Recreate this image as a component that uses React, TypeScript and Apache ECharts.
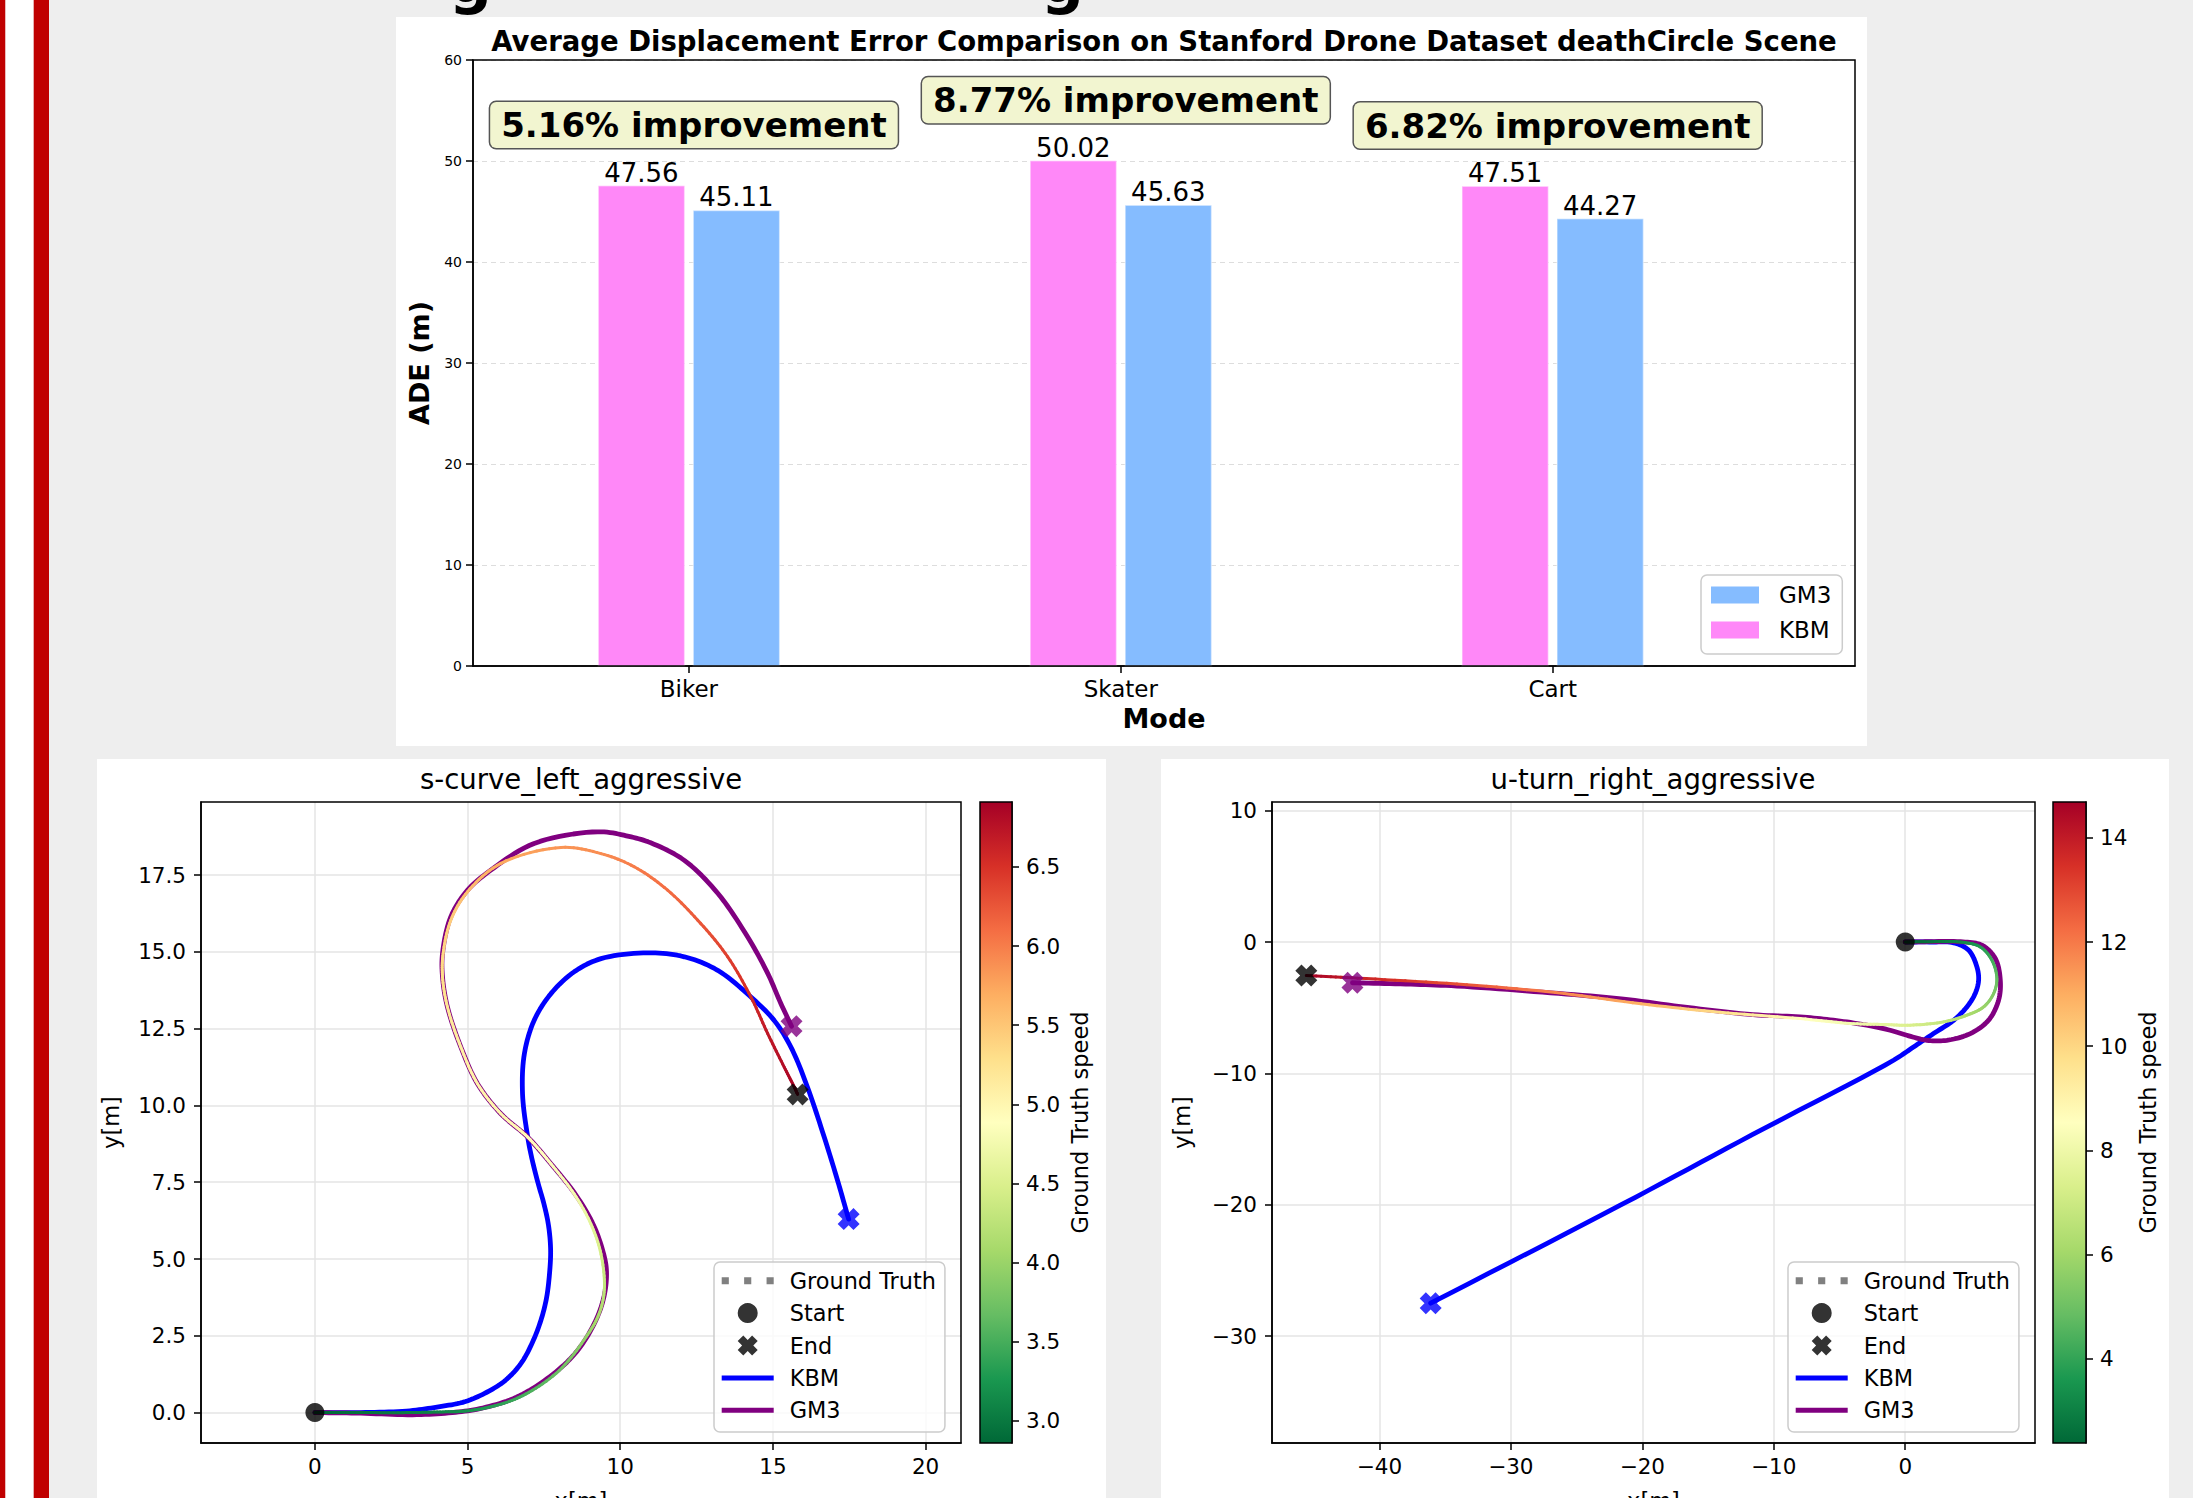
import React, { useEffect, useRef } from 'react';
import * as echarts from 'echarts';

const FONT = 'DejaVu Sans';

// ---------------- Bar chart data ----------------
const categories = ['Biker', 'Skater', 'Cart'];
const kbmADE = [47.56, 50.02, 47.51];
const gm3ADE = [45.11, 45.63, 44.27];
const improvementLabels = ['5.16% improvement', '8.77% improvement', '6.82% improvement'];
const barYTicks = [0, 10, 20, 30, 40, 50, 60];

// ---------------- s-curve_left_aggressive ----------------
const sCurveKBM = [
  [0, 0], [1.5, 0], [3.0, 0.05], [4.0, 0.18], [4.93, 0.36], [5.7, 0.7], [6.25, 1.06], [6.75, 1.6],
  [7.13, 2.3], [7.4, 3.0], [7.58, 3.7], [7.68, 4.48], [7.72, 5.3], [7.65, 6.1], [7.5, 6.8], [7.3, 7.5],
  [7.1, 8.3], [6.97, 8.97], [6.8, 10.38], [6.86, 11.68], [7.18, 12.77], [7.73, 13.64], [8.49, 14.35],
  [9.37, 14.78], [10.9, 14.97], [12.1, 14.84], [13.19, 14.4], [14.28, 13.53], [15.04, 12.77],
  [15.59, 11.9], [16.13, 10.6], [16.68, 8.97], [17.12, 7.55], [17.48, 6.3],
];
const sCurveGM3 = [
  [0, 0], [1.5, -0.02], [3.2, -0.07], [4.5, 0.0], [5.5, 0.15], [6.6, 0.5], [7.6, 1.1], [8.5, 1.9],
  [9.1, 2.8], [9.45, 3.7], [9.55, 4.6], [9.42, 5.3], [9.08, 6.2], [8.5, 7.15], [7.73, 8.1], [6.97, 8.97],
  [6.09, 9.73], [5.33, 10.7], [4.78, 11.9], [4.34, 13.21], [4.18, 14.18], [4.18, 14.95], [4.45, 16.14],
  [5.0, 17.01], [5.76, 17.66], [7.18, 18.53], [9.26, 18.91], [10.2, 18.78], [11.0, 18.55], [12.1, 17.98],
  [13.2, 16.9], [14.17, 15.49], [14.83, 14.3], [15.26, 13.32], [15.61, 12.58],
];
// x, y, ground-truth speed
const sCurveGT = [
  [0, 0, 2.86], [1.5, 0, 2.95], [3.0, 0, 3.05], [4.0, 0.02, 3.1], [4.93, 0.05, 3.2], [6.0, 0.25, 3.35],
  [6.9, 0.6, 3.5], [8.0, 1.37, 3.7], [8.88, 2.46, 3.95], [9.3, 3.2, 4.1], [9.48, 4.0, 4.25], [9.37, 5.16, 4.45],
  [9.04, 6.14, 4.6], [8.49, 7.12, 4.75], [7.73, 8.1, 4.85], [6.97, 8.97, 4.95], [6.09, 9.73, 5.0],
  [5.33, 10.7, 5.05], [4.78, 11.9, 5.1], [4.34, 13.21, 5.2], [4.18, 14.18, 5.3], [4.2, 14.95, 5.35],
  [4.45, 16.03, 5.45], [5.0, 16.96, 5.55], [6.09, 17.88, 5.7], [8.06, 18.4, 5.85], [9.37, 18.2, 5.9],
  [10.46, 17.77, 6.0], [11.55, 17.01, 6.1], [12.64, 15.92, 6.25], [13.52, 14.84, 6.4], [14.28, 13.53, 6.55],
  [14.83, 12.34, 6.7], [15.37, 11.25, 6.8], [15.7, 10.6, 6.88], [15.81, 10.36, 6.91],
];
const sCurveXRange = [-3.73, 21.16];
const sCurveYRange = [-0.99, 19.88];
const sCurveXTicks = [0, 5, 10, 15, 20];
const sCurveYTicks = [0, 2.5, 5, 7.5, 10, 12.5, 15, 17.5];
const sCurveCbTicks = [3.0, 3.5, 4.0, 4.5, 5.0, 5.5, 6.0, 6.5];

// ---------------- u-turn_right_aggressive ----------------
const uTurnKBM = [
  [0, 0], [2.0, 0.0], [3.68, -0.06], [4.82, -0.62], [5.45, -1.89], [5.58, -2.91], [5.32, -3.92],
  [4.69, -4.94], [3.68, -5.96], [2.15, -6.97], [0.63, -7.99], [-0.89, -9.0], [-11.6, -14.65],
  [-21.6, -20.0], [-36.1, -27.5],
];
const uTurnGM3 = [
  [0, 0], [1.5, 0.02], [4.2, 0.02], [5.83, -0.24], [6.85, -1.25], [7.23, -2.9], [7.1, -4.43], [6.34, -5.95],
  [4.95, -6.97], [3.16, -7.48], [1.64, -7.48], [0.12, -7.1], [-1.15, -6.72], [-2.93, -6.33], [-5.47, -5.95],
  [-8.0, -5.7], [-11.58, -5.53], [-16.59, -4.98], [-21.6, -4.33], [-27.6, -3.82], [-34.1, -3.35],
  [-38.0, -3.2], [-42.05, -3.1],
];
const uTurnGT = [
  [0, 0, 2.38], [1.5, 0.02, 2.6], [4.18, 0, 3.2], [5.7, -0.37, 3.7], [6.59, -1.38, 4.2], [6.97, -2.78, 4.8],
  [6.72, -3.93, 5.3], [5.96, -4.94, 5.8], [4.69, -5.57, 6.2], [2.91, -6.08, 6.7], [0.37, -6.33, 7.3],
  [-1.65, -6.28, 7.7], [-4.19, -6.2, 8.1], [-8.0, -5.83, 8.6], [-14.08, -5.35, 9.8], [-20.1, -4.7, 10.9],
  [-26.6, -3.85, 11.8], [-34.1, -3.2, 12.8], [-41.65, -2.75, 13.8], [-45.56, -2.55, 14.69],
];
const uTurnXRange = [-48.17, 9.87];
const uTurnYRange = [-38.14, 10.66];
const uTurnXTicks = [-40, -30, -20, -10, 0];
const uTurnYTicks = [-30, -20, -10, 0, 10];
const uTurnCbTicks = [4, 6, 8, 10, 12, 14];

// ---------------- styling ----------------
const KBM_COLOR = '#0000ff';
const GM3_COLOR = '#800080';
const BAR_KBM = '#FF88F8';
const BAR_GM3 = '#85BCFF';
const RDYLGN = ['#a50026', '#d73027', '#f46d43', '#fdae61', '#fee08b', '#ffffbf', '#d9ef8b', '#a6d96a', '#66bd63', '#1a9850', '#006837'];
const X_PATH = 'path://M0,2.8L2.8,0L5,2.2L7.2,0L10,2.8L7.8,5L10,7.2L7.2,10L5,7.8L2.8,10L0,7.2L2.2,5Z';

function hexRgb(h: string) {
  return [parseInt(h.slice(1, 3), 16), parseInt(h.slice(3, 5), 16), parseInt(h.slice(5, 7), 16)];
}
function cmap(t: number) {
  const tt = Math.max(0, Math.min(1, t));
  const p = (1 - tt) * 10;
  const i = Math.min(9, Math.floor(p));
  const f = p - i;
  const a = hexRgb(RDYLGN[i]);
  const b = hexRgb(RDYLGN[i + 1]);
  const c = a.map((v, k) => Math.round(v + (b[k] - v) * f));
  return `rgb(${c[0]},${c[1]},${c[2]})`;
}

// centripetal Catmull-Rom between P1 and P2 (rendering only)
function crPoint(P0: number[], P1: number[], P2: number[], P3: number[], u: number) {
  const d = (a: number[], b: number[]) => Math.max(1e-3, Math.pow(Math.hypot(b[0] - a[0], b[1] - a[1]), 0.5));
  const t0 = 0, t1 = t0 + d(P0, P1), t2 = t1 + d(P1, P2), t3 = t2 + d(P2, P3);
  const t = t1 + (t2 - t1) * u;
  const lerp = (A: number[], B: number[], ta: number, tb: number) =>
    [0, 1].map((k) => ((tb - t) / (tb - ta)) * A[k] + ((t - ta) / (tb - ta)) * B[k]);
  const A1 = lerp(P0, P1, t0, t1);
  const A2 = lerp(P1, P2, t1, t2);
  const A3 = lerp(P2, P3, t2, t3);
  const B1 = lerp(A1, A2, t0, t2);
  const B2 = lerp(A2, A3, t1, t3);
  return lerp(B1, B2, t1, t2);
}
function neighbours(P: number[][], i: number) {
  const n = P.length;
  const p0 = i > 0 ? P[i - 1] : [2 * P[0][0] - P[1][0], 2 * P[0][1] - P[1][1]];
  const p3 = i + 2 < n ? P[i + 2] : [2 * P[n - 1][0] - P[n - 2][0], 2 * P[n - 1][1] - P[n - 2][1]];
  return [p0, P[i], P[i + 1], p3];
}

const fmtMinus = (v: number) => (v < 0 ? '\u2212' + Math.abs(v) : String(v));

function buildOption() {
  const axisLine = { show: true, onZero: false, lineStyle: { color: '#000', width: 1.5 } };
  const tick = (vals?: number[]) => ({ show: true, length: 7, lineStyle: { color: '#000', width: 1.5 }, ...(vals ? { customValues: vals } : {}) });
  const gridSplit = { show: true, lineStyle: { color: '#e4e4e4', width: 1.5 } };

  const barW = 0.2;
  const barOff = 0.11;
  const barRender = (offset: number, color: string) => (params: any, api: any) => {
    const x = api.value(0);
    const v = api.value(1);
    const p0 = api.coord([x + offset - barW / 2, v]);
    const p1 = api.coord([x + offset + barW / 2, 0]);
    return {
      type: 'group',
      children: [
        { type: 'rect', shape: { x: p0[0], y: p0[1], width: p1[0] - p0[0], height: p1[1] - p0[1] }, style: { fill: color, stroke: 'rgba(255,255,255,0.45)', lineWidth: 1.5 } },
        { type: 'text', x: (p0[0] + p1[0]) / 2, y: p0[1], style: { text: v.toFixed(2), fill: '#000', font: `26px "${FONT}"`, align: 'center', verticalAlign: 'bottom' } },
      ],
    };
  };

  const pathRender = (pts: number[][], color: string, width: number) => (params: any, api: any) => {
    if (params.dataIndex !== 0) return null;
    const P = pts.map((p) => api.coord([p[0], p[1]]));
    const out: number[][] = [P[0]];
    for (let i = 0; i < P.length - 1; i++) {
      const [a, b, c, d] = neighbours(P, i);
      for (let k = 1; k <= 10; k++) out.push(crPoint(a, b, c, d, k / 10));
    }
    return { type: 'polyline', shape: { points: out }, style: { stroke: color, lineWidth: width, fill: null, lineJoin: 'round', lineCap: 'round' } };
  };

  const gtRender = (pts: number[][]) => {
    const speeds = pts.map((p) => p[2]);
    const vmin = Math.min(...speeds);
    const vmax = Math.max(...speeds);
    return (params: any, api: any) => {
      const i = params.dataIndex;
      if (i >= pts.length - 1) return null;
      const P = pts.map((p) => api.coord([p[0], p[1]]));
      const [a, b, c, d] = neighbours(P, i);
      const s0 = pts[i][2], s1 = pts[i + 1][2];
      const N = 10;
      const children: any[] = [];
      let prev = b;
      for (let k = 1; k <= N; k++) {
        const t = k / N;
        const pt = crPoint(a, b, c, d, t);
        const s = s0 + (s1 - s0) * (t - 0.5 / N);
        children.push({ type: 'line', shape: { x1: prev[0], y1: prev[1], x2: pt[0], y2: pt[1] }, style: { stroke: cmap((s - vmin) / (vmax - vmin)), lineWidth: 3, lineCap: 'round' } });
        prev = pt;
      }
      return { type: 'group', children };
    };
  };

  const cbRender = (vmin: number, vmax: number) => (params: any, api: any) => {
    const p0 = api.coord([0, vmax]);
    const p1 = api.coord([1, vmin]);
    return {
      type: 'rect',
      shape: { x: p0[0], y: p0[1], width: p1[0] - p0[0], height: p1[1] - p0[1] },
      style: { fill: new echarts.graphic.LinearGradient(0, 0, 0, 1, RDYLGN.map((c, i) => ({ offset: i / 10, color: c }))) },
    };
  };

  const sSpeeds = sCurveGT.map((p) => p[2]);
  const uSpeeds = uTurnGT.map((p) => p[2]);
  const sMin = Math.min(...sSpeeds), sMax = Math.max(...sSpeeds);
  const uMin = Math.min(...uSpeeds), uMax = Math.max(...uSpeeds);

  const labelBase = { showMinLabel: true, showMaxLabel: true, color: '#000', fontFamily: FONT, fontSize: 21.5 };

  const trajAxesX = (grid: number, range: number[], ticks: number[]) => ({
    gridIndex: grid, type: 'value', min: range[0], max: range[1],
    minInterval: ticks[1] - ticks[0], maxInterval: ticks[1] - ticks[0],
    axisLine, axisTick: tick(ticks),
    axisLabel: { ...labelBase, customValues: ticks, margin: 12, formatter: (v: number) => fmtMinus(v) },
    splitLine: gridSplit,
    name: 'x[m]', nameLocation: 'middle', nameGap: 46, nameTextStyle: { color: '#000', fontFamily: FONT, fontSize: 22.5 },
  });
  const trajAxesY = (grid: number, range: number[], ticks: number[], fmt: (v: number) => string) => ({
    gridIndex: grid, type: 'value', min: range[0], max: range[1],
    minInterval: ticks[1] - ticks[0], maxInterval: ticks[1] - ticks[0],
    axisLine, axisTick: tick(ticks),
    axisLabel: { ...labelBase, customValues: ticks, margin: 15, formatter: fmt },
    splitLine: gridSplit,
    name: 'y[m]', nameLocation: 'middle', nameRotate: 90, nameGap: 79, nameTextStyle: { color: '#000', fontFamily: FONT, fontSize: 22.5 },
  });
  const cbAxisY = (grid: number, vmin: number, vmax: number, ticks: number[], fmt: (v: number) => string, gap: number) => ({
    gridIndex: grid, type: 'value', position: 'right', min: vmin, max: vmax,
    minInterval: ticks[1] - ticks[0], maxInterval: ticks[1] - ticks[0],
    axisLine, axisTick: tick(ticks),
    axisLabel: { ...labelBase, customValues: ticks, margin: 14, formatter: fmt },
    splitLine: { show: false },
    name: 'Ground Truth speed', nameLocation: 'middle', nameRotate: 90, nameGap: gap, nameTextStyle: { color: '#000', fontFamily: FONT, fontSize: 22.5 },
  });

  const trajLegendData = [
    { name: 'Ground Truth', icon: 'path://M0,0h7v7h-7z M22,0h7v7h-7z M44,0h7v7h-7z', itemStyle: { color: '#808080', borderWidth: 0 } },
    { name: 'Start', icon: 'circle', itemStyle: { color: '#000', borderWidth: 0 } },
    { name: 'End', icon: X_PATH, itemStyle: { color: '#000', borderWidth: 0 } },
    { name: 'KBM', icon: 'path://M0,0h52v5h-52z', itemStyle: { color: KBM_COLOR, borderWidth: 0 } },
    { name: 'GM3', icon: 'path://M0,0h52v5h-52z', itemStyle: { color: GM3_COLOR, borderWidth: 0 } },
  ];
  const trajLegend = (left: number) => ({
    orient: 'vertical', left, top: 1262, itemWidth: 52, itemHeight: 20, itemGap: 10.4,
    padding: [7.7, 9, 10.7, 7.7], backgroundColor: 'rgba(255,255,255,0.8)', borderColor: '#cccccc', borderWidth: 1.5, borderRadius: 6,
    selectedMode: false, z: 20,
    itemStyle: { borderWidth: 0 },
    textStyle: { color: '#000', fontFamily: FONT, fontSize: 22.4, lineHeight: 22, padding: [0, 0, 0, 11] },
    data: trajLegendData,
  });

  const trajSeries = (xi: number, kbm: number[][], gm3: number[][], gt: number[][]) => [
    { type: 'custom', name: 'KBM', xAxisIndex: xi, yAxisIndex: xi, data: kbm, encode: { x: 0, y: 1 }, renderItem: pathRender(kbm, KBM_COLOR, 4.8), itemStyle: { color: KBM_COLOR }, z: 2 },
    { type: 'custom', name: 'GM3', xAxisIndex: xi, yAxisIndex: xi, data: gm3, encode: { x: 0, y: 1 }, renderItem: pathRender(gm3, GM3_COLOR, 4.8), itemStyle: { color: GM3_COLOR }, z: 3 },
    { type: 'custom', name: 'Ground Truth', xAxisIndex: xi, yAxisIndex: xi, data: gt, encode: { x: 0, y: 1 }, renderItem: gtRender(gt), itemStyle: { color: '#808080' }, z: 4 },
    { type: 'scatter', name: 'KBM end', xAxisIndex: xi, yAxisIndex: xi, data: [kbm[kbm.length - 1]], symbol: X_PATH, symbolSize: 22, itemStyle: { color: KBM_COLOR }, z: 5 },
    { type: 'scatter', name: 'GM3 end', xAxisIndex: xi, yAxisIndex: xi, data: [gm3[gm3.length - 1]], symbol: X_PATH, symbolSize: 22, itemStyle: { color: GM3_COLOR }, z: 5 },
    { type: 'scatter', name: 'End', xAxisIndex: xi, yAxisIndex: xi, data: [gt[gt.length - 1].slice(0, 2)], symbol: X_PATH, symbolSize: 22, itemStyle: { color: '#000' }, z: 6 },
    { type: 'scatter', name: 'Start', xAxisIndex: xi, yAxisIndex: xi, data: [gt[0].slice(0, 2)], symbol: 'circle', symbolSize: 19, itemStyle: { color: '#000' }, z: 6 },
  ];

  const gridBase = { show: true, borderColor: '#000', borderWidth: 1.5, backgroundColor: 'transparent', z: 8, containLabel: false, outerBoundsMode: 'none' };

  return {
    animation: false,
    backgroundColor: '#eeeeee',
    textStyle: { fontFamily: FONT },
    graphic: [
      { type: 'rect', z: -10, shape: { x: 0, y: 0, width: 5.5, height: 1498 }, style: { fill: '#c00000' } },
      { type: 'rect', z: -10, shape: { x: 5.5, y: 0, width: 28.2, height: 1498 }, style: { fill: '#ffffff' } },
      { type: 'rect', z: -10, shape: { x: 33.7, y: 0, width: 15.3, height: 1498 }, style: { fill: '#c00000' } },
      { type: 'rect', z: -10, shape: { x: 396, y: 17, width: 1471, height: 729 }, style: { fill: '#ffffff' } },
      { type: 'rect', z: -10, shape: { x: 97, y: 759, width: 1009, height: 739 }, style: { fill: '#ffffff' } },
      { type: 'rect', z: -10, shape: { x: 1161, y: 759, width: 1008, height: 739 }, style: { fill: '#ffffff' } },
      { type: 'text', z: -5, x: 449, y: -19, style: { text: 'g', font: `bold 60px "${FONT}"`, fill: '#000', verticalAlign: 'middle' } },
      { type: 'text', z: -5, x: 1041, y: -19, style: { text: 'g', font: `bold 60px "${FONT}"`, fill: '#000', verticalAlign: 'middle' } },
    ],
    title: [
      { text: 'Average Displacement Error Comparison on Stanford Drone Dataset deathCircle Scene', left: 1164, top: 27, textAlign: 'center', padding: 0, textStyle: { fontFamily: FONT, fontWeight: 'bold', fontSize: 27.5, color: '#000' } },
      { text: 's-curve_left_aggressive', left: 581, top: 765, textAlign: 'center', padding: 0, textStyle: { fontFamily: FONT, fontWeight: 'normal', fontSize: 27.5, color: '#000' } },
      { text: 'u-turn_right_aggressive', left: 1653, top: 765, textAlign: 'center', padding: 0, textStyle: { fontFamily: FONT, fontWeight: 'normal', fontSize: 27.5, color: '#000' } },
    ],
    legend: [
      {
        orient: 'vertical', left: 1701, top: 575, itemWidth: 48, itemHeight: 17, itemGap: 12,
        padding: [8.5, 11, 12.5, 10], backgroundColor: 'rgba(255,255,255,0.8)', borderColor: '#cccccc', borderWidth: 1.5, borderRadius: 6,
        selectedMode: false, z: 20, itemStyle: { borderWidth: 0 },
        textStyle: { color: '#000', fontFamily: FONT, fontSize: 23, lineHeight: 23, padding: [0, 0, 0, 15] },
        data: [
          { name: 'GM3', icon: 'rect', itemStyle: { color: BAR_GM3, borderWidth: 0 } },
          { name: 'KBM', icon: 'rect', itemStyle: { color: BAR_KBM, borderWidth: 0 } },
        ],
      },
      trajLegend(714),
      trajLegend(1788),
    ],
    grid: [
      { left: 473, top: 60, width: 1382, height: 606, ...gridBase },
      { left: 201, top: 802, width: 760, height: 641, ...gridBase },
      { left: 980, top: 802, width: 32, height: 641, ...gridBase },
      { left: 1272, top: 802, width: 763, height: 641, ...gridBase },
      { left: 2053, top: 802, width: 33, height: 641, ...gridBase },
    ],
    xAxis: [
      {
        gridIndex: 0, type: 'value', min: -0.5, max: 2.7, minInterval: 1, maxInterval: 1,
        axisLine, axisTick: tick([0, 1, 2]),
        axisLabel: { ...labelBase, fontSize: 23, customValues: [0, 1, 2], margin: 11, formatter: (v: number) => (Number.isInteger(v) && categories[v] ? categories[v] : '') },
        splitLine: { show: false },
        name: 'Mode', nameLocation: 'middle', nameGap: 39, nameTextStyle: { color: '#000', fontFamily: FONT, fontWeight: 'bold', fontSize: 27 },
      },
      trajAxesX(1, sCurveXRange, sCurveXTicks),
      { gridIndex: 2, type: 'value', min: 0, max: 1, show: false },
      trajAxesX(3, uTurnXRange, uTurnXTicks),
      { gridIndex: 4, type: 'value', min: 0, max: 1, show: false },
    ],
    yAxis: [
      {
        gridIndex: 0, type: 'value', min: barYTicks[0], max: barYTicks[barYTicks.length - 1], interval: 10,
        axisLine, axisTick: tick(),
        axisLabel: { color: '#000', fontFamily: FONT, fontSize: 14, margin: 11 },
        splitLine: { show: true, lineStyle: { color: '#dddddd', width: 1, type: [5, 4] } },
        name: 'ADE (m)', nameLocation: 'middle', nameRotate: 90, nameGap: 40, nameTextStyle: { color: '#000', fontFamily: FONT, fontWeight: 'bold', fontSize: 27 },
      },
      trajAxesY(1, sCurveYRange, sCurveYTicks, (v: number) => v.toFixed(1)),
      cbAxisY(2, sMin, sMax, sCurveCbTicks, (v: number) => v.toFixed(1), 56),
      trajAxesY(3, uTurnYRange, uTurnYTicks, (v: number) => fmtMinus(v)),
      cbAxisY(4, uMin, uMax, uTurnCbTicks, (v: number) => String(v), 50),
    ],
    series: [
      { type: 'custom', name: 'KBM', xAxisIndex: 0, yAxisIndex: 0, data: categories.map((c, i) => [i, kbmADE[i]]), encode: { x: 0, y: 1 }, renderItem: barRender(-barOff, BAR_KBM), itemStyle: { color: BAR_KBM }, z: 2 },
      { type: 'custom', name: 'GM3', xAxisIndex: 0, yAxisIndex: 0, data: categories.map((c, i) => [i, gm3ADE[i]]), encode: { x: 0, y: 1 }, renderItem: barRender(barOff, BAR_GM3), itemStyle: { color: BAR_GM3 }, z: 2 },
      {
        type: 'custom', name: 'improvement', xAxisIndex: 0, yAxisIndex: 0,
        data: categories.map((c, i) => [i, Math.max(kbmADE[i], gm3ADE[i]) + 6]), encode: { x: 0, y: 1 },
        renderItem: (params: any, api: any) => {
          const p = api.coord([api.value(0), api.value(1)]);
          return {
            type: 'text', x: p[0] + 5, y: p[1],
            style: {
              text: improvementLabels[params.dataIndex], font: `bold 34px "${FONT}"`, fill: '#000', align: 'center', verticalAlign: 'middle',
              backgroundColor: '#F2F5D0', borderColor: '#555555', borderWidth: 1.5, borderRadius: 6, padding: [6, 11, 6, 11],
            },
          };
        },
        z: 5,
      },
      ...trajSeries(1, sCurveKBM, sCurveGM3, sCurveGT),
      { type: 'custom', name: 'cb1', xAxisIndex: 2, yAxisIndex: 2, data: [[0, sMin]], encode: { x: 0, y: 1 }, renderItem: cbRender(sMin, sMax), z: 1 },
      ...trajSeries(3, uTurnKBM, uTurnGM3, uTurnGT),
      { type: 'custom', name: 'cb2', xAxisIndex: 4, yAxisIndex: 4, data: [[0, uMin]], encode: { x: 0, y: 1 }, renderItem: cbRender(uMin, uMax), z: 1 },
    ],
  };
}

export default function App() {
  const ref = useRef<HTMLDivElement>(null);
  useEffect(() => {
    if (!ref.current) return;
    const chart = echarts.init(ref.current, null, { renderer: 'svg', width: 2193, height: 1498 });
    chart.setOption(buildOption() as any);
    return () => chart.dispose();
  }, []);
  return <div ref={ref} style={{ position: 'absolute', left: 0, top: 0, width: 2193, height: 1498 }} />;
}
